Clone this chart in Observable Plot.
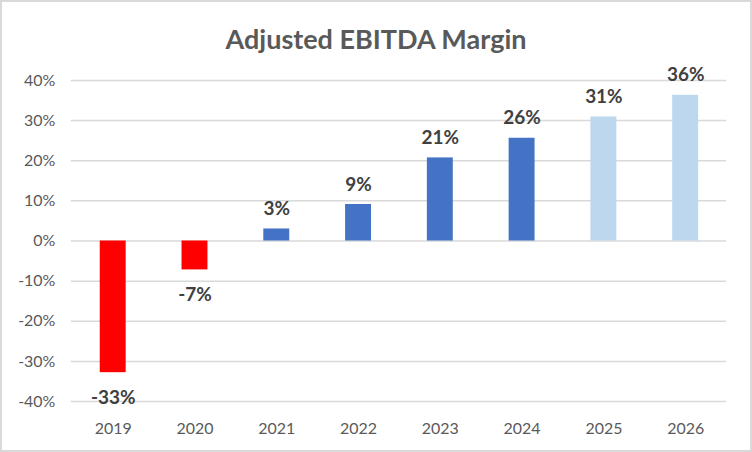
<!DOCTYPE html>
<html>
<head>
<meta charset="utf-8">
<script src="https://cdn.jsdelivr.net/npm/d3@7"></script>
<script src="https://cdn.jsdelivr.net/npm/@observablehq/plot@0.6"></script>
<style>
  html, body { margin: 0; padding: 0; background: #fff; }
  #chart { width: 752px; height: 452px; box-sizing: border-box; border: 2px solid #d9d9d9; position: relative; overflow: hidden; font-family: Lato, "Open Sans", sans-serif; }
  #title { position: absolute; left: 0; right: 0; top: 20px; text-align: center; font-size: 27px; font-weight: bold; color: #595959; }
  #plot { position: absolute; left: -2px; top: 58px; }
</style>
</head>
<body>
<div id="chart">
  <div id="title">Adjusted EBITDA Margin</div>
  <div id="plot"></div>
</div>
<script>
const years = ["2019", "2020", "2021", "2022", "2023", "2024", "2025", "2026"];
const margins = [-32.8, -7.2, 3.0, 9.1, 20.7, 25.6, 30.9, 36.3];
const kinds = ["negative", "negative", "actual", "actual", "actual", "actual", "forecast", "forecast"];
const yTicks = [-40, -30, -20, -10, 0, 10, 20, 30, 40];

const data = years.map((year, i) => ({ year, value: margins[i], kind: kinds[i] }));

const chart = Plot.plot({
  width: 752,
  height: 394,
  marginTop: 20,
  marginBottom: 52,
  marginLeft: 71,
  marginRight: 24,
  style: { fontFamily: "Lato, 'Open Sans', sans-serif", fontSize: "16px", color: "#595959", background: "transparent" },
  x: { domain: years, padding: 0, label: null, tickSize: 0, tickPadding: 21 },
  y: { domain: [-40, 40], ticks: yTicks, tickFormat: d => d + "%", label: null, tickSize: 0, tickPadding: 16 },
  color: { domain: ["negative", "actual", "forecast"], range: ["#ff0000", "#4472c4", "#bdd7ee"] },
  marks: [
    Plot.gridY(yTicks, { stroke: "#d9d9d9", strokeOpacity: 1, strokeWidth: 1.5 }),
    Plot.barY(data, { x: "year", y: "value", fill: "kind", insetLeft: 28, insetRight: 28 }),
    Plot.text(data.filter(d => d.value >= 0), { x: "year", y: "value", text: d => Math.round(d.value) + "%", dy: -20, fontWeight: "bold", fontSize: 19, fill: "#404040" }),
    Plot.text(data.filter(d => d.value < 0), { x: "year", y: "value", text: d => Math.round(d.value) + "%", dy: 25, fontWeight: "bold", fontSize: 19, fill: "#404040" })
  ]
});
document.getElementById("plot").appendChild(chart);
</script>
</body>
</html>
